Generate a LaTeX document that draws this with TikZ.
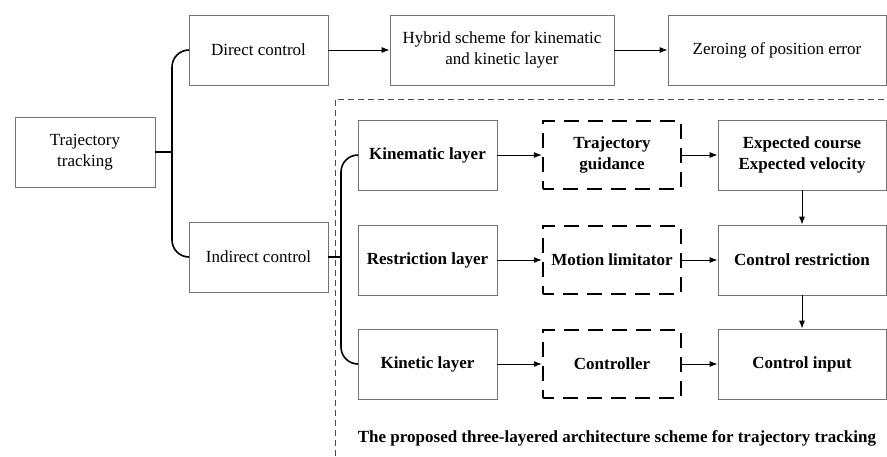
\documentclass[tikz,border=0pt]{standalone}
\usepackage{fontspec}
\setmainfont{Liberation Serif}
\usepackage{tikz}
\usetikzlibrary{positioning, calc, arrows.meta}

\begin{document}
\begin{tikzpicture}[x=1pt, y=-1pt, font=\fontsize{17}{21}\selectfont,
		box/.style={draw=black!55, line width=0.8pt, minimum height=70pt, align=center, inner sep=2pt},
		layer/.style={box, font=\fontsize{17}{21}\selectfont\bfseries},
		dashbox/.style={draw=black, line width=2.4pt, dash pattern=on 15pt off 9pt, dash phase=4pt, minimum width=138pt, minimum height=68pt, align=center, font=\fontsize{17}{21}\selectfont\bfseries},
		arr/.style={-{Latex[length=8pt,width=6pt]}, line width=0.9pt},
		brace/.style={line width=1.6pt, rounded corners=17pt},
		frame/.style={dash pattern=on 6pt off 4pt, line width=0.7pt, draw=black!70}]
			\useasboundingbox (0,0) rectangle (887,456);
			
			\node[box, minimum width=140pt] (tracking)   at (85, 152)  {Trajectory\\tracking};
			\node[box, minimum width=139pt] (direct)   at (258.5, 50)  {Direct control};
			\node[box, minimum width=224pt] (hybrid)   at (502, 50)  {Hybrid scheme for kinematic\\and kinetic layer};
			\node[box, minimum width=218pt] (zeroing)   at (777, 50)  {Zeroing of position error};
			\node[box, minimum width=139pt] (indirect)   at (258.5, 257)  {Indirect control};
			
			\draw[frame] (335, 456) -- (335, 99) -- (887, 99);
			
			\node[layer, minimum width=139pt] (kinematic)   at (427.5, 155)  {Kinematic layer};
			\node[layer, minimum width=139pt] (restriction)   at (427.5, 260)  {Restriction layer};
			\node[layer, minimum width=139pt] (kinetic)   at (427.5, 364)  {Kinetic layer};
			
			\node[dashbox] (guidance)   at (612, 155)  {Trajectory\\guidance};
			\node[dashbox] (limitator)   at (612, 260)  {Motion limitator};
			\node[dashbox] (controller)   at (612, 364)  {Controller};
			
			\node[layer, minimum width=168pt] (expected)   at (802, 155)  {Expected course\\Expected velocity};
			\node[layer, minimum width=168pt] (crestr)   at (802, 260)  {Control restriction};
			\node[layer, minimum width=168pt] (cinput)   at (802, 364)  {Control input};
			
			\node[font=\fontsize{17}{21}\selectfont\bfseries] (caption) at (617, 438) {The proposed three-layered architecture scheme for trajectory tracking};
			
			\coordinate (b1) at (172, 152);
			\coordinate (b2) at (341, 257);
			\draw[brace] (direct.west) -| (b1) |- (indirect.west);
			\draw[brace] (tracking.east) -- (b1);
			\draw[brace] (kinematic.west) -| (b2) |- (kinetic.west);
			\draw[brace] (indirect.east) -- (b2);
			
			\draw[arr] (direct) -- (hybrid);
			\draw[arr] (hybrid) -- (zeroing);
			\draw[arr] (kinematic) -- (guidance);
			\draw[arr] (guidance) -- (expected);
			\draw[arr] (restriction) -- (limitator);
			\draw[arr] (limitator) -- (crestr);
			\draw[arr] (kinetic) -- (controller);
			\draw[arr] (controller) -- (cinput);
			\draw[arr] (expected) -- (crestr);
			\draw[arr] (crestr) -- (cinput);
		\end{tikzpicture}
\end{document}
